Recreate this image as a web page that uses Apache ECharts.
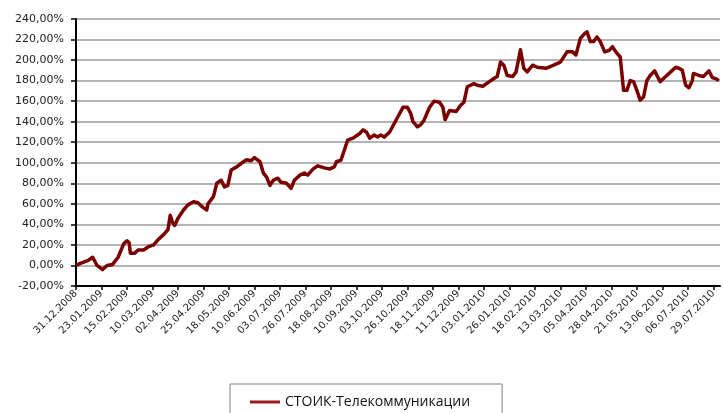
<!DOCTYPE html>
<html><head><meta charset="utf-8">
<script src="https://cdn.jsdelivr.net/npm/echarts@6/dist/echarts.min.js"></script>
<style>html,body{margin:0;padding:0;background:#fff}#c{width:723px;height:413px}</style>
</head><body><div id="c"></div>
<script>
const seriesName = 'СТОИК-Телекоммуникации';
const tickLabels = ['31.12.2008','23.01.2009','15.02.2009','10.03.2009','02.04.2009','25.04.2009','18.05.2009','10.06.2009','03.07.2009','26.07.2009','18.08.2009','10.09.2009','03.10.2009','26.10.2009','18.11.2009','11.12.2009','03.01.2010','26.01.2010','18.02.2010','13.03.2010','05.04.2010','28.04.2010','21.05.2010','13.06.2010','06.07.2010','29.07.2010'];
const tickStepDays = 23;
const lastDay = 581;
// days since 31.12.2008
const dayOffsets = [0,4,11,15,19,24,28,33,34,38,43,46,48,49,53,56,61,65,70,74,79,83,85,87,89,92,97,101,106,110,114,118,119,124,127,131,134,137,140,145,151,154,158,161,166,169,172,175,178,182,185,190,194,197,202,206,209,214,218,224,229,233,235,239,242,245,250,256,259,262,265,269,272,275,278,283,287,292,295,299,302,304,308,311,314,319,323,328,331,333,337,343,347,350,353,359,362,367,373,377,380,383,386,389,394,397,401,404,407,412,416,424,431,437,443,448,451,455,459,461,464,467,470,473,477,481,484,487,491,494,497,500,503,506,509,512,515,518,522,527,532,538,541,544,547,550,553,556,557,562,566,571,574,577,580];
// cumulative return, %
const returns = [0,2,5,8,0,-4,0,1,0,8,21,24,22,12,12,15,15,18,20,25,30,35,49,42,39,46,54,59,62,61,57,54,60,67,80,83,76.5,78,93,96,101,103,102,105,101,90,86,78,83,85,81,80,75,83,88,90,88,94,97,95,94,96,101,102.5,112,122,124,128.5,132,130,124,127,125,127,125,130,138,148,154,154,148,140,135,137,141.5,154,160,159,154,142,151,150,156,159,174,177,175.5,174.5,179,182,184,198,195,185,184,188.5,210,192,188.5,195,193,192,195,198,208,208,205,221,226,227.5,218,218,222.5,218,208,209.5,213,208,203,170.5,170.5,180,179,170.5,161,164,180,185,189.5,179,184,190,193,192,190,175.5,173,180,187,185,184,189.5,183,182,180];
const yMin = -20, yMax = 240, yStep = 20;

const data = dayOffsets.map((d, i) => [d, returns[i]]);
const chart = echarts.init(document.getElementById('c'), null, {renderer: 'canvas'});
chart.setOption({
  animation: false,
  backgroundColor: '#fff',
  grid: {left: 76, right: 3, top: 19, bottom: 127, containLabel: false},
  xAxis: {
    type: 'value', min: 0, max: lastDay, interval: tickStepDays,
    axisLine: {show: true, onZero: false, lineStyle: {color: '#000', width: 2}},
    axisTick: {show: true, inside: false, length: 4, lineStyle: {color: '#000', width: 1.5}},
    splitLine: {show: false},
    axisLabel: {
      rotate: 45, fontFamily: 'DejaVu Sans', fontSize: 10, color: '#222', margin: 6,
      showMaxLabel: false,
      formatter: v => (v % tickStepDays === 0 ? (tickLabels[v / tickStepDays] || '') : '')
    }
  },
  yAxis: {
    type: 'value', min: yMin, max: yMax, interval: yStep,
    axisLine: {show: true, lineStyle: {color: '#000', width: 2}},
    axisTick: {show: true, inside: false, length: 5, lineStyle: {color: '#000', width: 1.5}},
    splitLine: {show: true, lineStyle: {color: '#9c9c9c', width: 1.5}},
    axisLabel: {
      fontFamily: 'DejaVu Sans', fontSize: 11, color: '#222', margin: 12,
      formatter: v => v.toFixed(2).replace('.', ',') + '%'
    }
  },
  legend: {
    show: true, left: 230, top: 384,
    padding: [11, 32, 30, 20],
    borderColor: '#808080', borderWidth: 1,
    icon: 'rect', itemWidth: 30, itemHeight: 3, itemGap: 5,
    textStyle: {fontFamily: 'Open Sans', fontSize: 14, color: '#111'},
    data: [{name: seriesName, itemStyle: {color: '#9b1c1c'}}]
  },
  series: [{
    name: seriesName, type: 'line', data: data,
    symbol: 'none', smooth: false,
    lineStyle: {color: '#7b0000', width: 3.5, join: 'round'},
    itemStyle: {color: '#7b0000'}
  }]
});
</script></body></html>
